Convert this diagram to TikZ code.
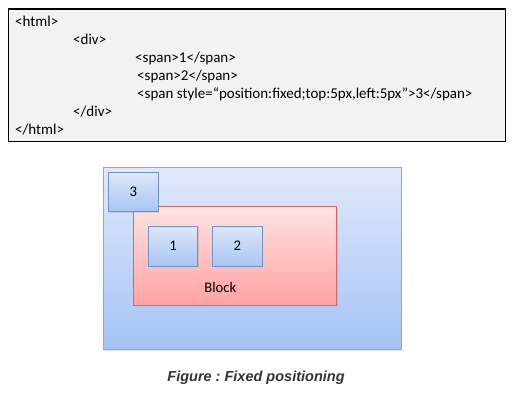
\documentclass[tikz,border=0pt]{standalone}
\usepackage{fontspec}
\setmainfont{Carlito}
\newfontfamily\captionfont{Liberation Sans}
\usetikzlibrary{shadows}
\frenchspacing

\definecolor{codegray}{HTML}{F2F2F2}
\definecolor{outerline}{HTML}{8CA8D6}
\definecolor{outertop}{HTML}{E0E9FB}
\definecolor{outerbottom}{HTML}{A5C3F6}
\definecolor{boxline}{HTML}{6F93C8}
\definecolor{boxtop}{HTML}{DDE7F9}
\definecolor{boxbottom}{HTML}{A8C5F3}
\definecolor{blockline}{HTML}{D06A6A}
\definecolor{blocktop}{HTML}{FFE2E2}
\definecolor{blockbottom}{HTML}{FFA2A2}

\tikzset{
  codeline/.style={anchor=base west, inner sep=0pt, font=\fontsize{15}{18}\selectfont},
  shadowed/.style={drop shadow={shadow xshift=0.8pt, shadow yshift=-1.2pt, opacity=0.25}},
  outerbox/.style={draw=outerline, line width=0.8pt, top color=outertop, bottom color=outerbottom, shadowed},
  blockbox/.style={draw=blockline, line width=0.8pt, top color=blocktop, bottom color=blockbottom, shadowed},
  spanbox/.style={draw=boxline, line width=0.8pt, top color=boxtop, bottom color=boxbottom, shadowed,
    font=\fontsize{14.7}{17}\selectfont, inner sep=0pt}
}

\begin{document}
\begin{tikzpicture}[x=1pt, y=-1pt]
  \useasboundingbox (0,0) rectangle (520,401);

  % html source
  \draw[line width=1.4pt, fill=codegray] (8.5,9) rectangle (505.5,141.5);
  \node[codeline] (html)    at (15,27)  {<html>};
  \node[codeline] (div)     at (73,45)  {<div>};
  \node[codeline] (spanone) at (135,63) {<span>1</span>};
  \node[codeline] (spantwo) at (137,81) {<span>2</span>};
  \node[codeline] (spanfix) at (137,99) {<span style=“position:fixed;top:5px,left:5px”>3</span>};
  \node[codeline] (divend)  at (73,117) {</div>};
  \node[codeline] (htmlend) at (15,135) {</html>};

  % rendered page
  \node[outerbox, minimum width=297.7, minimum height=182] (page) at (252.2,258.3) {};
  \node[blockbox, minimum width=203.4, minimum height=98.3] (block) at (235,255.9) {};
  \node[inner sep=0pt, font=\fontsize{14.7}{17}\selectfont] (blocklabel) at (220.3,287.7) {Block};
  \node[spanbox, minimum width=49.4, minimum height=40] (one) at (173,246) {1};
  \node[spanbox, minimum width=50, minimum height=40] (two) at (237.3,246) {2};
  \node[spanbox, minimum width=50, minimum height=39.4] (three) at (133.3,192) {3};

  \node[font=\captionfont\bfseries\itshape\fontsize{14.5}{17}\selectfont, text=black!80] (caption) at (256,378) {Figure : Fixed positioning};
\end{tikzpicture}
\end{document}
